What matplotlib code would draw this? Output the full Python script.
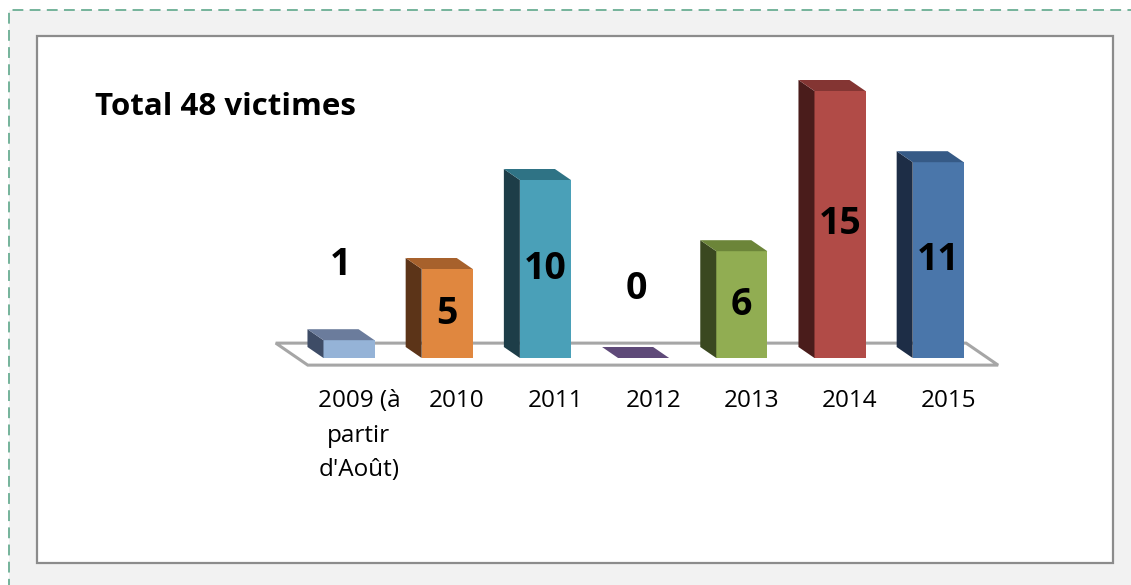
import numpy as np
import matplotlib.pyplot as plt
from matplotlib.patches import Polygon, Rectangle

plt.rcParams['font.family'] = ['Open Sans', 'DejaVu Sans']

# données
annees = ["2009 (à\npartir\nd'Août)", '2010', '2011', '2012', '2013', '2014', '2015']
victimes = [1, 5, 10, 0, 6, 15, 11]
titre = 'Total 48 victimes'

# couleurs façon Excel : face avant, côté, dessus
c_face = ['#95b3d7', '#e0873f', '#4aa0b8', '#8064a2', '#91ad52', '#b14b47', '#4a76aa']
c_cote = ['#3e4c66', '#5c3418', '#1d3d48', '#3f3052', '#3a4820', '#4a1c1b', '#1d2d46']
c_dessus = ['#6b7c9c', '#a7612c', '#2f7385', '#5f4a79', '#6c8539', '#843533', '#365a86']

W, H = 1131, 585
fig = plt.figure(figsize=(W / 100, H / 100), dpi=100)

# cadre pointillé + fond gris + boite blanche
fig.patches.append(Rectangle((9 / W, -0.1), 1.0, 1 - 10 / H + 0.1, transform=fig.transFigure,
                             fc='#f2f2f2', ec='#6aae93', lw=1.3, ls=(0, (6, 3.5)), zorder=-2))
fig.patches.append(Rectangle((37 / W, 1 - 563 / H), (1113 - 37) / W, (563 - 36) / H,
                             transform=fig.transFigure, fc='white', ec='#8c8c8c', lw=1.6, zorder=-1))

# axes : echelle en pixels (x=0 -> 349 px, y=0 -> 358 px)
px_x, px_y = 98.2, 17.8
x0, y0 = 349, 358
xlim = (-1.0, 6.8)
ylim = (-1.5, 17)
left = x0 + xlim[0] * px_x
right = x0 + xlim[1] * px_x
bottom = y0 - ylim[0] * px_y
top = y0 - ylim[1] * px_y
ax = fig.add_axes([left / W, 1 - bottom / H, (right - left) / W, (bottom - top) / H])
ax.set_zorder(5)
ax.set_xlim(*xlim)
ax.set_ylim(*ylim)
ax.patch.set_alpha(0)
for s in ax.spines.values():
    s.set_visible(False)
ax.set_yticks([])

x = np.arange(len(victimes))
larg = 0.52
dx, dy = -16 / px_x, 11 / px_y  # profondeur 3D

# sol
sol_av = -0.4
sol = Polygon([(x[0] - 0.42, sol_av), (x[-1] + 0.61, sol_av),
               (x[-1] + 0.61 + 2 * dx, sol_av + 2 * dy), (x[0] - 0.42 + 2 * dx, sol_av + 2 * dy)],
              closed=True, fc='white', ec='#a6a6a6', lw=2.2, zorder=1)
ax.add_patch(sol)

# barres 3D
ax.bar(x, victimes, width=larg, color=c_face, zorder=3)
for i, v in enumerate(victimes):
    xl, xr = x[i] - larg / 2, x[i] + larg / 2
    cote = Polygon([(xl, 0), (xl, v), (xl + dx, v + dy), (xl + dx, dy)], closed=True,
                   fc=c_cote[i], ec='none', zorder=3)
    dessus = Polygon([(xl, v), (xr, v), (xr + dx, v + dy), (xl + dx, v + dy)], closed=True,
                     fc=c_dessus[i], ec='none', zorder=3)
    ax.add_patch(cote)
    ax.add_patch(dessus)

# étiquettes de valeurs
decal = {0: (-0.09, 5.2), 3: (-0.07, 3.9)}
for i, v in enumerate(victimes):
    ddx, yy = decal.get(i, (0, v / 2))
    ax.text(x[i] + ddx, yy, str(v), ha='center', va='center', fontsize=27,
            fontweight='bold', color='black', zorder=5)

ax.set_xticks(x + 0.1)
ax.set_xticklabels(annees, fontsize=17.5, linespacing=1.6)
ax.tick_params(axis='x', length=0, pad=3)

fig.text(95 / W, 1 - 107 / H, titre, fontsize=22.5, fontweight='bold', va='center', ha='left')

fig.savefig('out.png', dpi=100, facecolor='white')
